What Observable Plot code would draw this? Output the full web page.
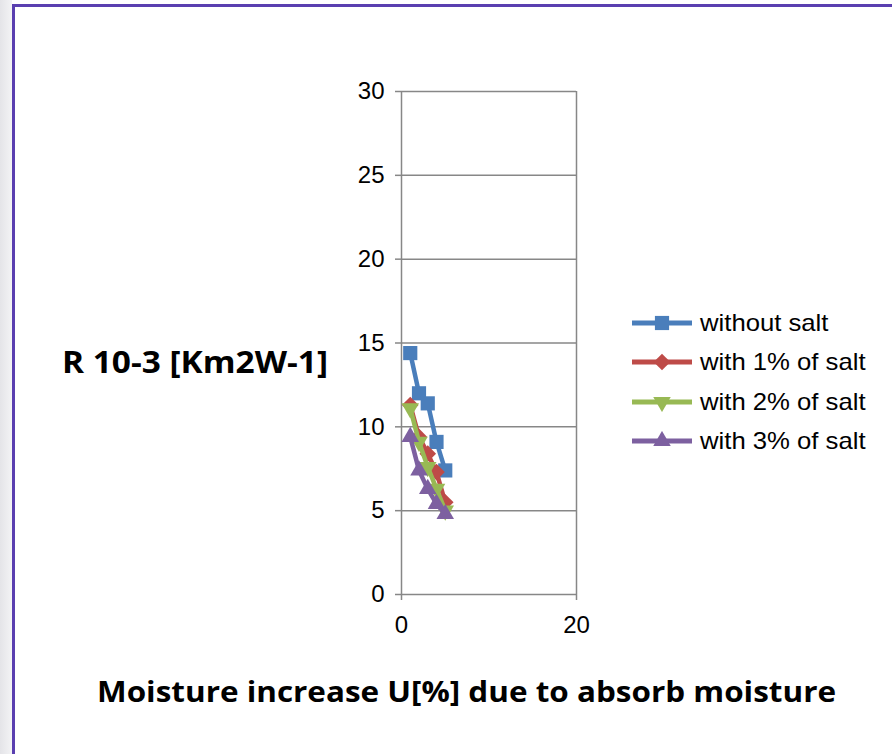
<!DOCTYPE html>
<html>
<head>
<meta charset="utf-8">
<script src="https://cdn.jsdelivr.net/npm/d3@7"></script>
<script src="https://cdn.jsdelivr.net/npm/@observablehq/plot@0.6"></script>
<style>
  html, body { margin: 0; padding: 0; background: #fff; }
  #wrap { position: relative; width: 892px; height: 754px; overflow: hidden;
          background: linear-gradient(90deg, #e4e4e8 0px, #f3f3f5 12px, #fff 12px); }
  #frame { position: absolute; left: 12px; top: 4px; right: -10px; bottom: -10px;
           border-left: 3px solid #5a3fb0; border-top: 3px solid #5a3fb0; background: #fff; }
  #chart { position: absolute; left: 0; top: 0; }
  .title { position: absolute; font-family: "Open Sans", sans-serif; font-weight: 700; color: #000; white-space: nowrap; line-height: 1; }
  #ytitle { left: 62px; top: 347px; font-size: 30px; transform-origin: left center; }
  #xtitle { left: 97px; top: 676px; font-size: 29px; transform-origin: left center; }
  #legend { position: absolute; left: 632px; top: 303px; font-family: "Liberation Sans", Arial, sans-serif; font-size: 24px; }
  .row { position: relative; height: 39.5px; display: flex; align-items: center; }
  .row svg { margin-right: 6px; }
  .row span { display: inline-block; transform: scaleX(1.07); transform-origin: left center; }
</style>
</head>
<body>
<div id="wrap">
  <div id="frame"></div>
  <div id="chart"></div>
  <div class="title" id="ytitle">R 10-3 [Km2W-1]</div>
  <div class="title" id="xtitle">Moisture increase U[%] due to absorb moisture</div>
  <div id="legend"></div>
</div>
<script>
// ---- data ----
const xValues = [1, 2, 3, 4, 5];
const seriesNames = ["without salt", "with 1% of salt", "with 2% of salt", "with 3% of salt"];
const withoutSalt = [14.4, 12.0, 11.4, 9.1, 7.4];
const salt1 = [11.3, 9.4, 8.4, 7.3, 5.5];
const salt2 = [11.1, 9.1, 7.6, 6.3, 5.0];
const salt3 = [9.4, 7.4, 6.3, 5.4, 4.8];
const yTicks = [0, 5, 10, 15, 20, 25, 30];
const xTicks = [0, 20];
const colors = ["#4a7ebb", "#be4b48", "#98b954", "#7d60a0"];
const symbols = ["square", "diamond2", "triangle", "triangle"];
const rotations = [0, 0, 180, 0];
const sizes = [8, 7.5, 6.5, 6.5];

const allSeries = [withoutSalt, salt1, salt2, salt3];
const data = allSeries.flatMap((vals, i) =>
  vals.map((v, j) => ({ x: xValues[j], y: v, s: seriesNames[i], i })));

const marks = [
  Plot.gridY(yTicks, { stroke: "#878787", strokeOpacity: 1, strokeWidth: 1.5 }),
  Plot.gridX([20], { stroke: "#878787", strokeOpacity: 1, strokeWidth: 1.5 }),
  Plot.ruleX([0], { stroke: "#878787", strokeWidth: 1.5 }),
  Plot.axisY(yTicks, { tickSize: 6, tickPadding: 11, fontSize: 24, stroke: "#878787", strokeWidth: 1.5,
    fontFamily: "Liberation Sans, Arial, sans-serif", fill: "#000", label: null }),
  Plot.axisX(xTicks, { tickSize: 6, tickPadding: 15, fontSize: 24, stroke: "#878787", strokeWidth: 1.5,
    fontFamily: "Liberation Sans, Arial, sans-serif", fill: "#000", label: null })
];
allSeries.forEach((vals, i) => {
  const d = data.filter(r => r.i === i);
  marks.push(Plot.line(d, { x: "x", y: "y", stroke: colors[i], strokeWidth: 4.5 }));
  marks.push(Plot.dot(d, { x: "x", y: "y", symbol: symbols[i], r: sizes[i], fill: colors[i],
    rotate: rotations[i], stroke: "none" }));
});

const chart = Plot.plot({
  width: 892, height: 754,
  marginLeft: 401, marginRight: 316, marginTop: 91, marginBottom: 160,
  style: { background: "transparent", overflow: "visible" },
  x: { domain: [0, 20], axis: null },
  y: { domain: [0, 30], axis: null },
  marks
});
document.getElementById("chart").appendChild(chart);

// legend
const legend = document.getElementById("legend");
const symTypes = { square: d3.symbolSquare, diamond2: d3.symbolDiamond2, triangle: d3.symbolTriangle };
seriesNames.forEach((name, i) => {
  const row = document.createElement("div");
  row.className = "row";
  const sym = d3.symbol().type(symTypes[symbols[i]]).size(Math.PI * sizes[i] * sizes[i])();
  row.innerHTML = `<svg width="62" height="20"><line x1="0" x2="60" y1="10" y2="10" stroke="${colors[i]}" stroke-width="5"/>` +
    `<path d="${sym}" transform="translate(30,10) rotate(${rotations[i]})" fill="${colors[i]}"/></svg><span>${name}</span>`;
  legend.appendChild(row);
});

// fit title widths to the reference
function fit(id, w) {
  const el = document.getElementById(id);
  const cw = el.getBoundingClientRect().width;
  el.style.transform = `scaleX(${w / cw})`;
}
fit("ytitle", 266);
fit("xtitle", 739);
</script>
</body>
</html>
